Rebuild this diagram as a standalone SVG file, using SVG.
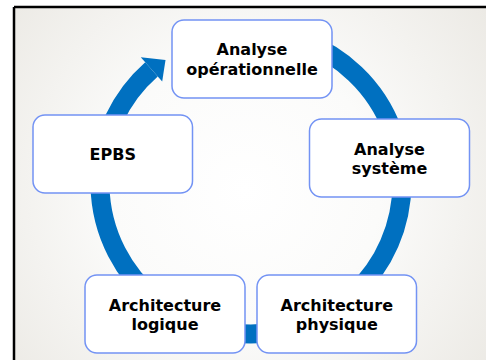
<svg xmlns="http://www.w3.org/2000/svg" width="486" height="360" viewBox="0 0 486 360">
<defs>
<radialGradient id="bg" cx="245" cy="190" r="300" gradientUnits="userSpaceOnUse">
<stop offset="0" stop-color="#ffffff"/>
<stop offset="0.45" stop-color="#fbfbfa"/>
<stop offset="1" stop-color="#eceae5"/>
</radialGradient>
<style>
.box{fill:#ffffff;stroke:#7393f4;stroke-width:1.5}
.t{font-family:"DejaVu Sans","Liberation Sans",sans-serif;font-weight:bold;font-size:16px;fill:#000000;text-anchor:middle}
.ring{fill:none;stroke:#0070c0;stroke-width:19}
</style>
</defs>
<rect x="0" y="0" width="486" height="360" fill="#ffffff"/>
<rect x="14" y="7" width="472" height="353" fill="url(#bg)"/>
<path d="M14 7 H486 M14 7 V360" fill="none" stroke="#000000" stroke-width="2.5"/>
<g id="connectors">
<path class="ring" d="M302.6 41.1 A151 151 0 1 1 151.5 69.4"/>
<polygon points="140.8,57.2 165.5,60 162.2,81.6" fill="#0070c0"/>
</g>
<g id="analyse-operationnelle">
<rect class="box" x="172" y="20" width="160" height="78" rx="12"/>
<text class="t" x="252" y="55">Analyse</text>
<text class="t" x="252" y="74.5">opérationnelle</text>
</g>
<g id="analyse-systeme">
<rect class="box" x="309.5" y="119" width="160" height="78" rx="12"/>
<text class="t" x="389.5" y="154.5">Analyse</text>
<text class="t" x="389.5" y="174">système</text>
</g>
<g id="architecture-physique">
<rect class="box" x="257" y="275" width="159.5" height="78" rx="12"/>
<text class="t" x="336.8" y="310.5">Architecture</text>
<text class="t" x="336.8" y="330">physique</text>
</g>
<g id="architecture-logique">
<rect class="box" x="85" y="275" width="160" height="78" rx="12"/>
<text class="t" x="165" y="310.5">Architecture</text>
<text class="t" x="165" y="330">logique</text>
</g>
<g id="epbs">
<rect class="box" x="33" y="115" width="159.5" height="78" rx="12"/>
<text class="t" x="112.8" y="160">EPBS</text>
</g>
</svg>
